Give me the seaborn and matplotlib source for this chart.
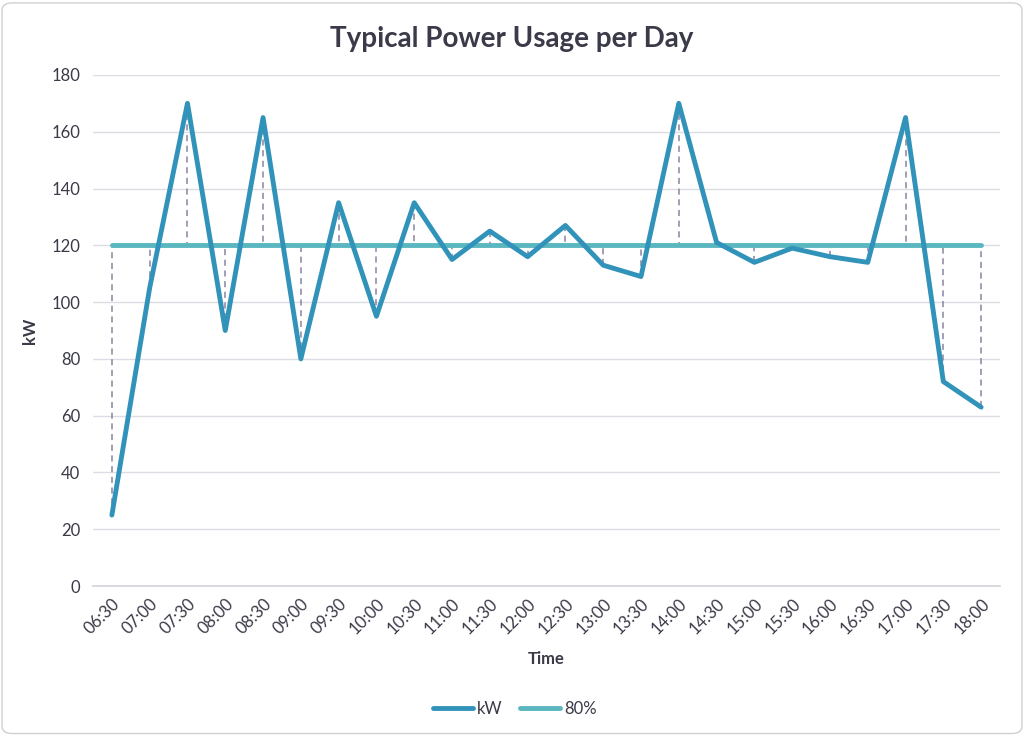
import pandas as pd
import numpy as np
import seaborn as sns
import matplotlib.pyplot as plt
from matplotlib.patches import FancyBboxPatch

times = ["06:30", "07:00", "07:30", "08:00", "08:30", "09:00", "09:30", "10:00",
         "10:30", "11:00", "11:30", "12:00", "12:30", "13:00", "13:30", "14:00",
         "14:30", "15:00", "15:30", "16:00", "16:30", "17:00", "17:30", "18:00"]
kw = [25, 105, 170, 90, 165, 80, 135, 95, 135, 115, 125, 116, 127, 113, 109, 170,
      121, 114, 119, 116, 114, 165, 72, 63]
pct80 = [120] * len(times)

df = pd.DataFrame({"Time": times, "kW": kw, "80%": pct80})
df["pos"] = np.arange(len(df))

sns.set_theme(style="white")
plt.rcParams['font.family'] = ['Lato', 'DejaVu Sans']
txt = "#3a3a48"

fig = plt.figure(figsize=(10.24, 7.35), dpi=100)
ax = fig.add_axes([0.0908, 0.2027, 0.8858, 0.6953])

# drop lines between the series
ax.vlines(df["pos"], df["kW"], df["80%"], colors="#8a84a0", linestyles=(0, (4, 3)),
          linewidth=1.1, zorder=1)
sns.lineplot(data=df, x="pos", y="kW", ax=ax, color="#3193b9", linewidth=3.5,
             label="kW", zorder=3)
sns.lineplot(data=df, x="pos", y="80%", ax=ax, color="#5ab6bf", linewidth=3.5,
             label="80%", zorder=2)

ax.set_xlim(-0.5, len(df) - 0.5)
ax.set_ylim(0, 180)
ax.set_yticks(range(0, 181, 20))
ax.yaxis.grid(True, color="#dcdce4", linewidth=1)
ax.set_axisbelow(True)
for s in ["top", "right", "left"]:
    ax.spines[s].set_visible(False)
ax.spines["bottom"].set_color("#d4d4dc")

ax.set_xticks(df["pos"])
ax.set_xticklabels(df["Time"], rotation=45, ha="right", rotation_mode="anchor",
                   fontsize=12, color=txt)
ax.set_xticks(np.arange(-0.5, len(df), 1), minor=True)
ax.tick_params(axis="x", which="major", length=0, pad=7)
ax.tick_params(axis="x", which="minor", length=5, color="#d4d4dc", width=1)
ax.tick_params(axis="y", length=0, labelsize=12, labelcolor=txt, pad=9)

ax.set_xlabel("Time", fontsize=12, fontweight="bold", color=txt, labelpad=10)
ax.set_ylabel("kW", fontsize=12, fontweight="bold", color=txt, labelpad=10)
fig.suptitle("Typical Power Usage per Day", fontsize=20, fontweight="bold",
             color=txt, y=0.965)

ax.legend(loc="center", bbox_to_anchor=(0.465, -0.24), ncol=2, frameon=False,
          fontsize=12, handlelength=2.4, columnspacing=1.0, handletextpad=0.25,
          labelcolor=txt)

border = FancyBboxPatch((0.002, 0.002), 0.996, 0.994, boxstyle="round,pad=0,rounding_size=0.01",
                        transform=fig.transFigure, fill=False, edgecolor="#d0d0d0",
                        linewidth=1)
fig.patches.append(border)

fig.savefig("out.png", dpi=100)
